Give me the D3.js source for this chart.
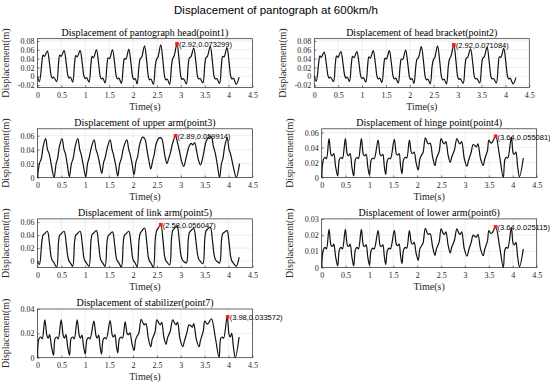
<!DOCTYPE html>
<html>
<head>
<meta charset="utf-8">
<script src="https://cdn.jsdelivr.net/npm/d3@7"></script>
<style>
  body { margin: 0; background: #fff; }
  svg { display: block; }
  .tick text { font-family: "Liberation Serif", "Times New Roman", serif; font-size: 8px; }
  .tick line { stroke: #262626; stroke-width: 0.6; }
</style>
</head>
<body>
<svg id="chart" width="550" height="387"></svg>
<script>
// ---- values (time in s, displacement in m) ----

// shared time samples for head / bracket / link arm
var tA = [
  0, 0.04,
  0.091, 0.116, 0.146, 0.206, 0.251, 0.286, 0.311, 0.341,
  0.401, 0.441, 0.466, 0.496, 0.556, 0.601, 0.636, 0.661, 0.691,
  0.736, 0.776, 0.801, 0.831, 0.891, 0.936, 0.971, 0.996, 1.026,
  1.078, 1.118, 1.143, 1.173, 1.233, 1.278, 1.313, 1.338, 1.368,
  1.414, 1.454, 1.479, 1.509, 1.569, 1.614, 1.649, 1.674, 1.704,
  1.756, 1.796, 1.821, 1.851, 1.911, 1.956, 1.991, 2.016, 2.046,
  2.085, 2.125, 2.15, 2.18, 2.24, 2.285, 2.32, 2.345, 2.375,
  2.425, 2.465, 2.49, 2.52, 2.58, 2.625, 2.66, 2.685, 2.715,
  2.765, 2.805, 2.83, 2.86, 2.92, 2.965, 3.0, 3.025, 3.055,
  3.115, 3.155, 3.18, 3.21, 3.27, 3.315, 3.35, 3.375, 3.405,
  3.461, 3.501, 3.526, 3.556, 3.616, 3.661, 3.696, 3.721, 3.751,
  3.81, 3.85, 3.875, 3.905, 3.965, 4.01, 4.045, 4.07, 4.1,
  4.16, 4.22
];

var headDisp = [
  0, -0.012,
  0.03, 0.048, 0.045, 0.057, 0.03, 0.002, -0.004, -0.002,
  -0.012, 0.03, 0.048, 0.045, 0.058, 0.03, 0.002, -0.004, -0.002,
  -0.013, 0.029, 0.047, 0.044, 0.058, 0.03, 0.001, -0.005, -0.003,
  -0.013, 0.027, 0.045, 0.042, 0.06, 0.03, 0.0, -0.006, -0.004,
  -0.015, 0.025, 0.042, 0.04, 0.06, 0.03, 0.0, -0.006, -0.004,
  -0.016, 0.024, 0.04, 0.039, 0.061, 0.03, -0.001, -0.007, -0.005,
  -0.017, 0.024, 0.04, 0.043, 0.069, 0.035, 0.0, -0.008, -0.006,
  -0.018, 0.023, 0.038, 0.043, 0.071, 0.035, 0.0, -0.008, -0.006,
  -0.018, 0.024, 0.04, 0.046, 0.0733, 0.035, 0.0, -0.007, -0.005,
  -0.017, 0.025, 0.042, 0.044, 0.064, 0.032, 0.0, -0.006, -0.005,
  -0.015, 0.025, 0.042, 0.045, 0.068, 0.033, 0.0, -0.006, -0.005,
  -0.016, 0.026, 0.045, 0.044, 0.065, 0.032, 0.0, -0.006, -0.004,
  -0.018, -0.002
];

var bracketDisp = [
  0, -0.011,
  0.029, 0.046, 0.043, 0.055, 0.029, 0.002, -0.004, -0.002,
  -0.012, 0.029, 0.046, 0.043, 0.056, 0.029, 0.002, -0.004, -0.002,
  -0.012, 0.028, 0.045, 0.042, 0.056, 0.029, 0.001, -0.005, -0.003,
  -0.013, 0.026, 0.044, 0.041, 0.058, 0.029, 0.0, -0.006, -0.004,
  -0.014, 0.024, 0.041, 0.039, 0.058, 0.029, 0.0, -0.006, -0.004,
  -0.015, 0.023, 0.039, 0.038, 0.059, 0.029, -0.001, -0.007, -0.005,
  -0.016, 0.023, 0.039, 0.042, 0.067, 0.034, 0.0, -0.008, -0.006,
  -0.017, 0.022, 0.037, 0.042, 0.069, 0.034, 0.0, -0.008, -0.006,
  -0.017, 0.023, 0.039, 0.045, 0.0711, 0.034, 0.0, -0.007, -0.005,
  -0.016, 0.024, 0.041, 0.043, 0.062, 0.031, 0.0, -0.006, -0.005,
  -0.015, 0.024, 0.041, 0.044, 0.066, 0.032, 0.0, -0.006, -0.005,
  -0.015, 0.025, 0.044, 0.043, 0.063, 0.031, 0.0, -0.006, -0.004,
  -0.017, -0.003
];

var linkDisp = [
  0, -0.005,
  0.03, 0.04, 0.042, 0.046, 0.027, 0.006, 0.001, -0.002,
  -0.009, 0.03, 0.04, 0.042, 0.046, 0.027, 0.006, 0.0, -0.003,
  -0.008, 0.03, 0.04, 0.042, 0.046, 0.027, 0.005, 0.0, -0.003,
  -0.008, 0.03, 0.041, 0.043, 0.047, 0.027, 0.005, 0.0, -0.003,
  -0.008, 0.029, 0.039, 0.041, 0.045, 0.026, 0.005, 0.0, -0.003,
  -0.009, 0.029, 0.04, 0.042, 0.046, 0.027, 0.005, 0.0, -0.003,
  -0.009, 0.032, 0.043, 0.046, 0.051, 0.03, 0.006, 0.0, -0.003,
  -0.01, 0.034, 0.046, 0.05, 0.056, 0.033, 0.008, 0.001, -0.002,
  -0.006, 0.035, 0.047, 0.05, 0.054, 0.033, 0.01, 0.003, 0.0,
  -0.003, 0.033, 0.044, 0.047, 0.05, 0.031, 0.01, 0.003, 0.0,
  -0.004, 0.034, 0.046, 0.049, 0.052, 0.032, 0.01, 0.003, 0.0,
  -0.003, 0.031, 0.042, 0.044, 0.047, 0.028, 0.006, 0.0, -0.003,
  -0.008, 0.006
];

// upper arm has its own timing
var tUpper = [
  0, 0.04, 0.08, 0.12, 0.17, 0.21, 0.245, 0.29,
  0.346, 0.39, 0.42, 0.46, 0.513, 0.555, 0.585, 0.625,
  0.667, 0.71, 0.745, 0.79, 0.843, 0.885, 0.915, 0.96,
  1.01, 1.05, 1.08, 1.13, 1.185, 1.225, 1.255, 1.30,
  1.345, 1.385, 1.415, 1.465, 1.52, 1.56, 1.59, 1.635,
  1.68, 1.72, 1.755, 1.805, 1.87, 1.91, 1.94, 1.98,
  2.02, 2.06, 2.095, 2.14, 2.2, 2.25, 2.29, 2.33,
  2.37, 2.41, 2.44, 2.49, 2.55, 2.6, 2.635, 2.67,
  2.71, 2.74, 2.78, 2.83, 2.89, 2.93, 2.97, 3.01,
  3.06, 3.1, 3.13, 3.18, 3.22, 3.25, 3.29, 3.33, 3.37,
  3.41, 3.45, 3.48, 3.53, 3.58, 3.64, 3.68, 3.72, 3.76,
  3.81, 3.85, 3.88, 3.92, 3.97, 4.01, 4.04, 4.1,
  4.16, 4.23
];

var upperDisp = [
  0, 0.02, 0.027, 0.045, 0.056, 0.04, 0.034, 0.018,
  0.0, 0.02, 0.027, 0.045, 0.056, 0.04, 0.034, 0.018,
  0.001, 0.02, 0.027, 0.045, 0.056, 0.04, 0.033, 0.017,
  0.001, 0.021, 0.028, 0.044, 0.054, 0.04, 0.034, 0.02,
  0.006, 0.022, 0.028, 0.044, 0.054, 0.04, 0.033, 0.018,
  0.002, 0.02, 0.027, 0.044, 0.054, 0.04, 0.033, 0.02,
  0.004, 0.022, 0.03, 0.048, 0.058, 0.055, 0.04, 0.025,
  0.012, 0.024, 0.032, 0.05, 0.057, 0.056, 0.045, 0.03,
  0.02, 0.026, 0.035, 0.05, 0.0599, 0.05, 0.038, 0.025,
  0.016, 0.025, 0.034, 0.046, 0.049, 0.047, 0.05, 0.038, 0.025,
  0.018, 0.026, 0.036, 0.052, 0.058, 0.058, 0.045, 0.035, 0.02,
  0.0, 0.02, 0.027, 0.045, 0.057, 0.04, 0.034, 0.015,
  0.0, 0.02
];

// shared time samples for hinge / lower arm / stabilizer
var tHinge = [
  0, 0.035, 0.07, 0.1, 0.153, 0.198, 0.223, 0.253, 0.29,
  0.335, 0.37, 0.405, 0.435, 0.495, 0.54, 0.565, 0.595, 0.632,
  0.67, 0.705, 0.74, 0.77, 0.83, 0.875, 0.9, 0.93, 0.965,
  1.0, 1.035, 1.07, 1.1, 1.18, 1.225, 1.25, 1.28, 1.31,
  1.34, 1.375, 1.41, 1.44, 1.52, 1.565, 1.59, 1.62, 1.65,
  1.68, 1.715, 1.75, 1.78, 1.835, 1.88, 1.905, 1.935, 1.975,
  2.02, 2.055, 2.09, 2.12, 2.17, 2.215, 2.24, 2.27, 2.32,
  2.37, 2.4, 2.43, 2.46, 2.5, 2.545, 2.57, 2.6, 2.645,
  2.69, 2.72, 2.75, 2.78, 2.83, 2.875, 2.9, 2.93, 2.985,
  3.04, 3.07, 3.1, 3.13, 3.17, 3.215, 3.24, 3.27, 3.325,
  3.38, 3.41, 3.44, 3.47, 3.5, 3.54, 3.57, 3.64, 3.72,
  3.8, 3.835, 3.865, 3.895, 3.97, 4.01, 4.035, 4.065, 4.1,
  4.14, 4.22
];

var hingeDisp = [
  0, 0.024, 0.027, 0.025, 0.052, 0.03, 0.029, 0.032, 0.015,
  0.002, 0.024, 0.027, 0.025, 0.052, 0.03, 0.029, 0.032, 0.014,
  0.002, 0.024, 0.027, 0.025, 0.052, 0.03, 0.029, 0.031, 0.014,
  0.003, 0.023, 0.026, 0.025, 0.05, 0.03, 0.029, 0.031, 0.015,
  0.004, 0.023, 0.026, 0.025, 0.051, 0.031, 0.03, 0.032, 0.016,
  0.005, 0.024, 0.027, 0.026, 0.05, 0.033, 0.032, 0.034, 0.02,
  0.01, 0.025, 0.03, 0.033, 0.053, 0.046, 0.045, 0.046, 0.028,
  0.016, 0.025, 0.03, 0.035, 0.052, 0.046, 0.045, 0.048, 0.03,
  0.02, 0.027, 0.032, 0.037, 0.052, 0.046, 0.045, 0.048, 0.025,
  0.015, 0.022, 0.028, 0.034, 0.044, 0.042, 0.041, 0.045, 0.025,
  0.016, 0.024, 0.03, 0.036, 0.05, 0.046, 0.047, 0.0551, 0.03,
  0.0, 0.024, 0.027, 0.026, 0.054, 0.032, 0.031, 0.034, 0.015,
  0.001, 0.026
];

var lowerDisp = [
  0, 0.011, 0.0125, 0.0115, 0.0235, 0.0135, 0.013, 0.0145, 0.007,
  0.001, 0.011, 0.0125, 0.0115, 0.0235, 0.0135, 0.013, 0.0145, 0.0065,
  0.001, 0.011, 0.0125, 0.0115, 0.0235, 0.0135, 0.013, 0.014, 0.0065,
  0.0015, 0.0105, 0.012, 0.0115, 0.0228, 0.0135, 0.013, 0.014, 0.007,
  0.002, 0.0105, 0.012, 0.0115, 0.023, 0.014, 0.0135, 0.0145, 0.0075,
  0.0025, 0.011, 0.0125, 0.012, 0.0228, 0.015, 0.0145, 0.0155, 0.009,
  0.0045, 0.0115, 0.0135, 0.015, 0.0242, 0.021, 0.0205, 0.021, 0.013,
  0.0075, 0.0115, 0.0135, 0.016, 0.0238, 0.021, 0.0205, 0.022, 0.014,
  0.009, 0.0125, 0.0145, 0.017, 0.0238, 0.021, 0.0205, 0.022, 0.0115,
  0.007, 0.01, 0.013, 0.0155, 0.02, 0.019, 0.0188, 0.0205, 0.0115,
  0.0073, 0.011, 0.0137, 0.0165, 0.0228, 0.021, 0.0215, 0.0251, 0.0137,
  0.0, 0.011, 0.0125, 0.012, 0.0245, 0.0145, 0.014, 0.0155, 0.007,
  0.0005, 0.0115
];

var stabDisp = [
  0, 0.016, 0.017, 0.0155, 0.031, 0.018, 0.016, 0.019, 0.01,
  0.002, 0.016, 0.017, 0.0155, 0.031, 0.018, 0.016, 0.019, 0.009,
  0.002, 0.016, 0.017, 0.0155, 0.031, 0.018, 0.016, 0.0185, 0.009,
  0.003, 0.015, 0.0165, 0.0155, 0.03, 0.018, 0.016, 0.0185, 0.009,
  0.003, 0.015, 0.0165, 0.0155, 0.0305, 0.0185, 0.017, 0.019, 0.01,
  0.004, 0.0155, 0.017, 0.016, 0.0295, 0.0195, 0.019, 0.0205, 0.012,
  0.006, 0.015, 0.018, 0.02, 0.0315, 0.028, 0.027, 0.028, 0.016,
  0.009, 0.015, 0.018, 0.021, 0.031, 0.028, 0.027, 0.029, 0.017,
  0.011, 0.016, 0.019, 0.022, 0.031, 0.028, 0.027, 0.029, 0.015,
  0.009, 0.013, 0.017, 0.021, 0.027, 0.026, 0.025, 0.028, 0.015,
  0.009, 0.014, 0.018, 0.022, 0.03, 0.028, 0.028, 0.032, 0.017,
  0.0, 0.016, 0.017, 0.016, 0.0336, 0.019, 0.017, 0.02, 0.009,
  0.0, 0.017
];

var panelTitles = [
  "Displacement of pantograph head(point1)",
  "Displacement of head bracket(point2)",
  "Displacement of upper arm(point3)",
  "Displacement of hinge point(point4)",
  "Displacement of link arm(point5)",
  "Displacement of lower arm(point6)",
  "Displacement of stabilizer(point7)"
];

// data tips shown on each subplot
var tipX = [2.92, 2.92, 2.89, 3.64, 2.58, 3.64, 3.98];
var tipY = [0.073299, 0.071084, 0.059914, 0.055081, 0.056047, 0.025115, 0.033572];

var xTicks = [0, 0.5, 1, 1.5, 2, 2.5, 3, 3.5, 4, 4.5];
var yTicksHead = [-0.02, 0, 0.02, 0.04, 0.06, 0.08];
var yTicksArm = [0, 0.02, 0.04, 0.06];
var yTicksLower = [0, 0.01, 0.02, 0.03];
var yTicksStab = [0, 0.02, 0.04];

// ---- layout ----
var boxH = 48.7;
var rowTop = [38.7, 128.8, 218.9, 309.0];
var serif = '"Liberation Serif", "Times New Roman", serif';
var sans = '"Liberation Sans", Arial, sans-serif';

var panels = [
  { t: tA,     v: headDisp,    ylim: [-0.025, 0.085], yt: yTicksHead,  row: 0, x0: 37.5,  x1: 252.5 },
  { t: tA,     v: bracketDisp, ylim: [-0.025, 0.085], yt: yTicksHead,  row: 0, x0: 314.3, x1: 529.3 },
  { t: tUpper, v: upperDisp,   ylim: [0, 0.07],       yt: yTicksArm,   row: 1, x0: 37.5,  x1: 252.5 },
  { t: tHinge, v: hingeDisp,   ylim: [0, 0.065],      yt: yTicksArm,   row: 1, x0: 321.7, x1: 536.7 },
  { t: tA,     v: linkDisp,    ylim: [-0.01, 0.065],  yt: yTicksArm,   row: 2, x0: 37.5,  x1: 252.5 },
  { t: tHinge, v: lowerDisp,   ylim: [0, 0.03],       yt: yTicksLower, row: 2, x0: 321.7, x1: 536.7 },
  { t: tHinge, v: stabDisp,    ylim: [0, 0.04],       yt: yTicksStab,  row: 3, x0: 37.5,  x1: 252.5 }
];

var svg = d3.select("#chart");

svg.append("text")
  .attr("x", 276)
  .attr("y", 14)
  .attr("text-anchor", "middle")
  .style("font-family", sans)
  .style("font-size", "11.5px")
  .style("fill", "#000")
  .text("Displacement of pantograph at 600km/h");

function fmt(d) {
  return String(+d.toFixed(3));
}

panels.forEach(function(p, i) {
  var top = rowTop[p.row];
  var bottom = top + boxH;

  var x = d3.scaleLinear().domain([0, 4.5]).range([p.x0, p.x1]);
  var y = d3.scaleLinear().domain(p.ylim).range([bottom, top]);

  var g = svg.append("g");

  // grid
  g.append("g").selectAll("line")
    .data(xTicks.slice(1, -1))
    .enter().append("line")
    .attr("x1", d => x(d)).attr("x2", d => x(d))
    .attr("y1", top).attr("y2", bottom)
    .attr("stroke", "#e3e3e3").attr("stroke-width", 0.6);

  g.append("g").selectAll("line")
    .data(p.yt.filter(d => y(d) > top + 0.5 && y(d) < bottom - 0.5))
    .enter().append("line")
    .attr("x1", p.x0).attr("x2", p.x1)
    .attr("y1", d => y(d)).attr("y2", d => y(d))
    .attr("stroke", "#e3e3e3").attr("stroke-width", 0.6);

  // axes, ticks pointing inward like MATLAB
  var xAxis = g.append("g")
    .attr("transform", `translate(0, ${bottom})`)
    .call(d3.axisBottom(x).tickValues(xTicks).tickFormat(fmt)
      .tickSizeInner(-2).tickSizeOuter(0).tickPadding(4.5));
  xAxis.select(".domain").remove();
  xAxis.selectAll("text").attr("fill", "#262626");

  var yAxis = g.append("g")
    .attr("transform", `translate(${p.x0}, 0)`)
    .call(d3.axisLeft(y).tickValues(p.yt).tickFormat(fmt)
      .tickSizeInner(-2).tickSizeOuter(0).tickPadding(3));
  yAxis.select(".domain").remove();
  yAxis.selectAll("text").attr("fill", "#262626");

  // the signal
  var line = d3.line()
    .x(d => x(d[0]))
    .y(d => y(d[1]))
    .curve(d3.curveCatmullRom.alpha(0.5));

  g.append("path")
    .datum(d3.zip(p.t, p.v))
    .attr("d", line)
    .attr("fill", "none")
    .attr("stroke", "#111")
    .attr("stroke-width", 1.2)
    .attr("stroke-linejoin", "round");

  // box
  g.append("rect")
    .attr("x", p.x0).attr("y", top)
    .attr("width", p.x1 - p.x0).attr("height", boxH)
    .attr("fill", "none")
    .attr("stroke", "#262626")
    .attr("stroke-width", 0.7);

  // data tip
  var mx = x(tipX[i]), my = y(tipY[i]);
  g.append("rect")
    .attr("x", mx - 1.8).attr("y", my - 1.8)
    .attr("width", 3.6).attr("height", 3.6)
    .attr("fill", "#ff1a1a");
  g.append("text")
    .attr("x", mx + 2)
    .attr("y", my + 3.3)
    .style("font-family", sans)
    .style("font-size", "7.5px")
    .style("fill", "#000")
    .text("(" + tipX[i] + "," + tipY[i] + ")");

  // labels
  var cx = (p.x0 + p.x1) / 2;
  g.append("text")
    .attr("x", cx).attr("y", top - 3)
    .attr("text-anchor", "middle")
    .style("font-family", serif)
    .style("font-size", "10px")
    .style("fill", "#000")
    .text(panelTitles[i]);

  g.append("text")
    .attr("x", cx).attr("y", bottom + 22.5)
    .attr("text-anchor", "middle")
    .style("font-family", serif)
    .style("font-size", "10px")
    .style("fill", "#262626")
    .text("Time(s)");

  g.append("text")
    .attr("transform", `translate(${p.x0 - 28.5}, ${top + boxH / 2}) rotate(-90)`)
    .attr("text-anchor", "middle")
    .style("font-family", serif)
    .style("font-size", "10px")
    .style("fill", "#262626")
    .text("Displacement(m)");
});
</script>
</body>
</html>
